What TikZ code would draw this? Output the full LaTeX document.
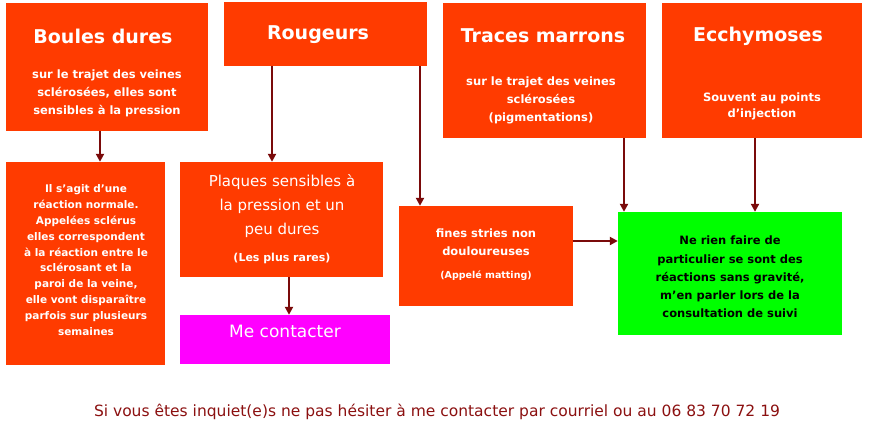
\documentclass[tikz,border=0pt]{standalone}
\usepackage{fontspec}
\setmainfont{DejaVu Sans}
\usetikzlibrary{arrows.meta}
\definecolor{boxred}{HTML}{FF3B00}
\definecolor{arr}{HTML}{7A0A0A}
\definecolor{mag}{HTML}{FF00FF}
\definecolor{grn}{HTML}{00FF00}
\definecolor{foot}{HTML}{8B1010}
\begin{document}
\begin{tikzpicture}[x=1pt,y=-1pt,
  rbox/.style={fill=boxred,draw=none,inner sep=0pt},
  ttl/.style={text=white,font=\fontsize{19}{22}\selectfont\bfseries,inner sep=0pt},
  sub/.style={text=white,font=\fontsize{11.5}{18}\selectfont\bfseries,align=center,inner sep=0pt},
  conn/.style={draw=arr,line width=2pt,-{Triangle[length=8pt,width=8pt]}}]
\useasboundingbox (0,0) rectangle (891,439);
\newcommand{\bx}[6]{\path[#6] (#2,#3) rectangle (#4,#5) coordinate[pos=0.5] (#1); \node[inner sep=0pt,minimum width={#4-#2},minimum height={#5-#3}] (#1) at ({(#2+#4)/2},{(#3+#5)/2}) {};}
\bx{boules}{6}{3}{208}{131}{fill=boxred}
\bx{roug}{224}{2}{427}{66}{fill=boxred}
\bx{traces}{443}{3}{646}{138}{fill=boxred}
\bx{ecch}{662}{3}{862}{138}{fill=boxred}
\bx{left}{6}{162}{165}{365}{fill=boxred}
\bx{plaq}{180}{162}{383}{277}{fill=boxred}
\bx{me}{180}{315}{390}{364}{fill=mag}
\bx{fines}{399}{206}{573}{306}{fill=boxred}
\bx{green}{618}{212}{842}{335}{fill=grn}

\node[ttl] at (103,36) {Boules dures};
\node[sub] at (107,93) {sur le trajet des veines\\sclérosées, elles sont\\sensibles à la pression};
\node[ttl] at (318,35) {Rougeurs};
\node[ttl] at (543,36) {Traces marrons};
\node[sub] at (541,100) {sur le trajet des veines\\sclérosées\\(pigmentations)};
\node[ttl] at (758,36) {Ecchymoses};
\node[sub,font=\fontsize{11.5}{16}\selectfont\bfseries] at (762,106) {Souvent au points\\d’injection};
\node[sub,font=\fontsize{10.5}{15.8}\selectfont\bfseries] at (86,260) {Il s’agit d’une\\réaction normale.\\Appelées sclérus\\elles correspondent\\à la réaction entre le\\sclérosant et la\\paroi de la veine,\\elle vont disparaître\\parfois sur plusieurs\\semaines};
\node[sub,font=\fontsize{15}{24}\selectfont] at (282,206) {Plaques sensibles à\\la pression et un\\peu dures};
\node[sub,font=\fontsize{11}{13}\selectfont\bfseries] at (282,258) {(Les plus rares)};
\node[sub,font=\fontsize{11.5}{18}\selectfont\bfseries] at (486,242) {fines stries non\\douloureuses};
\node[sub,font=\fontsize{9.5}{12}\selectfont\bfseries] at (486,276) {(Appelé matting)};
\node[sub,text=black,font=\fontsize{11.5}{18.2}\selectfont\bfseries] at (730,277) {Ne rien faire de\\particulier se sont des\\réactions sans gravité,\\m’en parler lors de la\\consultation de suivi};
\node[sub,font=\fontsize{17}{20}\selectfont] at (285,331) {Me contacter};
\node[inner sep=0pt,text=foot,font=\fontsize{15.5}{18}\selectfont] (footer) at (437,412) {Si vous êtes inquiet(e)s ne pas hésiter à me contacter par courriel ou au 06 83 70 72 19};

\draw[conn] (boules.south -| 100,0) -- (left.north -| 100,0);
\draw[conn] (roug.south -| 272,0) -- (plaq.north -| 272,0);
\draw[conn] (roug.south -| 420,0) -- (fines.north -| 420,0);
\draw[conn] (plaq.south -| 289,0) -- (me.north -| 289,0);
\draw[conn] (fines.east |- 0,241) -- (green.west |- 0,241);
\draw[conn] (traces.south -| 624,0) -- (green.north -| 624,0);
\draw[conn] (ecch.south -| 755,0) -- (green.north -| 755,0);
\end{tikzpicture}
\end{document}
